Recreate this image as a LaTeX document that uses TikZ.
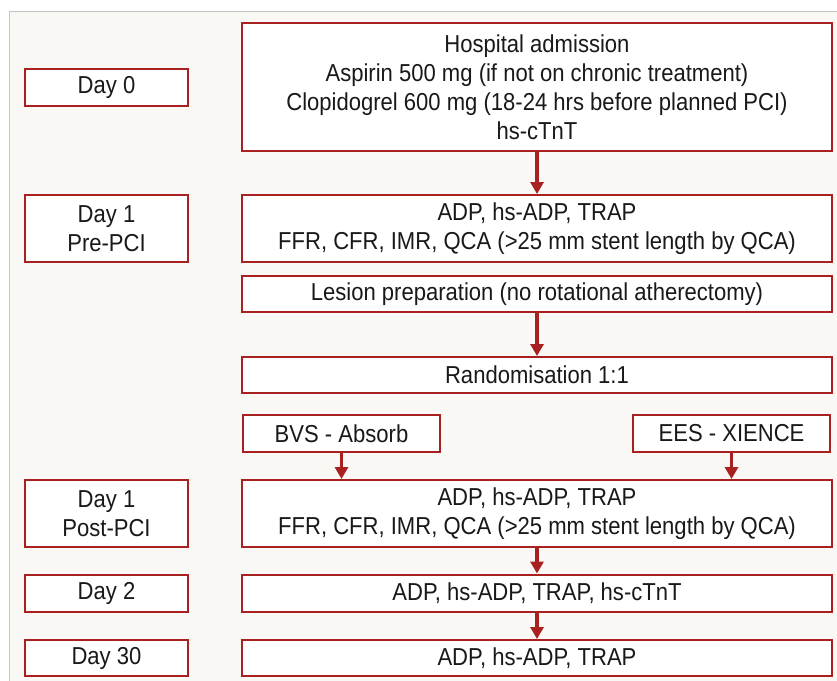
\documentclass[tikz,border=0pt]{standalone}
\usepackage{fontspec}
\setmainfont{Liberation Sans}[FakeStretch=0.9]
\usetikzlibrary{arrows.meta}
\definecolor{boxred}{HTML}{A8201F}
\definecolor{cream}{HTML}{F9F8F4}
\definecolor{frame}{HTML}{C4C4C4}
\begin{document}
\begin{tikzpicture}[x=1pt,y=-1pt,
  box/.style={draw=boxred,line width=2pt,fill=white,rectangle,inner sep=0pt,align=center,
    font=\fontsize{24.5}{29}\selectfont,text=black!90},
  daybox/.style={box,minimum width=163pt},
  mainbox/.style={box,minimum width=590pt},
  arr/.style={draw=boxred,line width=3.2pt,-{Triangle[width=13pt,length=12pt]}}]
\useasboundingbox (0,0) rectangle (837,680);
\begin{scope}
\clip (0,0) rectangle (837,680);
\draw[frame,fill=cream,line width=1pt] (9,11) rectangle (860,700);
\end{scope}
% left column
\node[daybox,minimum height=37pt] (d0) at (106.5,87.5) {Day 0};
\node[daybox,minimum height=67pt] (d1a) at (106.5,228.5) {Day 1\\Pre-PCI};
\node[daybox,minimum height=67pt] (d1b) at (106.5,513.5) {Day 1\\Post-PCI};
\node[daybox,minimum height=37pt] (d2) at (106.5,593) {Day 2};
\node[daybox,minimum height=36pt] (d30) at (106.5,658) {Day 30};
% main column
\node[mainbox,minimum height=128pt] (hosp) at (537,87) {Hospital admission\\Aspirin 500 mg (if not on chronic treatment)\\Clopidogrel 600 mg (18-24 hrs before planned PCI)\\hs-cTnT};
\node[mainbox,minimum height=67pt] (pre) at (537,228.5) {ADP, hs-ADP, TRAP\\FFR, CFR, IMR, QCA (>25 mm stent length by QCA)};
\node[mainbox,minimum height=36pt] (les) at (537,294) {Lesion preparation (no rotational atherectomy)};
\node[mainbox,minimum height=36pt] (rand) at (537,375) {Randomisation 1:1};
\node[box,minimum width=197pt,minimum height=37pt] (bvs) at (341.5,433.5) {BVS - Absorb};
\node[box,minimum width=197pt,minimum height=37pt] (ees) at (731.5,433.5) {EES - XIENCE};
\node[mainbox,minimum height=67pt] (post) at (537,513.5) {ADP, hs-ADP, TRAP\\FFR, CFR, IMR, QCA (>25 mm stent length by QCA)};
\node[mainbox,minimum height=37pt] (m2) at (537,593) {ADP, hs-ADP, TRAP, hs-cTnT};
\node[mainbox,minimum height=36pt] (m30) at (537,658) {ADP, hs-ADP, TRAP};
% arrows
\draw[arr] (hosp.south) -- (pre.north);
\draw[arr] (les.south) -- (rand.north);
\draw[arr] (bvs.south) -- (bvs.south |- post.north);
\draw[arr] (ees.south) -- (ees.south |- post.north);
\draw[arr] (post.south) -- (m2.north);
\draw[arr] (m2.south) -- (m30.north);
\end{tikzpicture}
\end{document}
